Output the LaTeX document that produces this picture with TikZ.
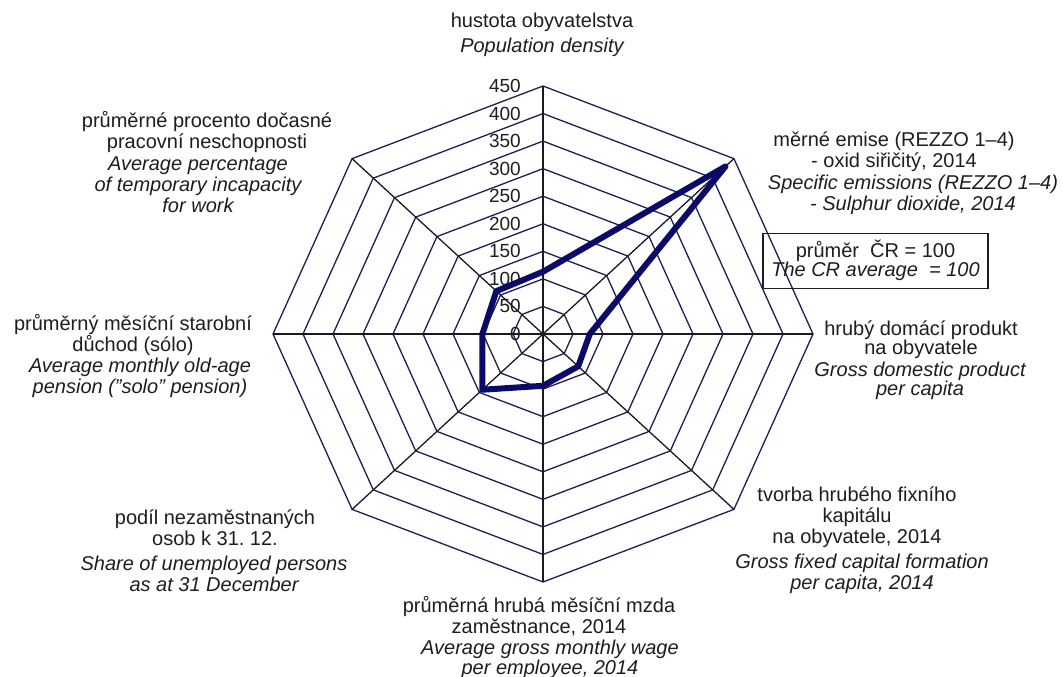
\documentclass[tikz,border=0pt]{standalone}
\usepackage{fontspec}
\setmainfont{Liberation Sans}
\definecolor{ringc}{RGB}{30,30,85}
\definecolor{spokec}{RGB}{25,25,35}
\definecolor{datac}{RGB}{10,10,105}
\definecolor{txt}{RGB}{30,30,30}
\begin{document}
\frenchspacing
\begin{tikzpicture}[x=1pt,y=-1pt,
  ring/.style={draw=ringc,line width=1.3pt},
  spoke/.style={draw=spokec,line width=1.3pt},
  dataline/.style={draw=datac,line width=6pt,line join=round},
  lab/.style={font=\fontsize{20}{21}\selectfont,align=center,inner sep=0pt,text=txt},
  labit/.style={lab,font=\fontsize{20}{21}\selectfont\itshape},
  tick/.style={font=\fontsize{19}{20}\selectfont,anchor=east,inner sep=0pt,text=txt},
  avgbox/.style={draw=txt,line width=1.2pt,minimum width=225pt,minimum height=55pt,inner sep=0pt,align=center,text=txt,font=\fontsize{20}{20}\selectfont}]
\useasboundingbox (0,0) rectangle (1063,677);
\fill[white] (0,0) rectangle (1063,677);
\coordinate (O) at (543,334);
% rings
\foreach \k in {1,...,9}{
  \pgfmathsetmacro\r{50*\k}
  \draw[ring] ({543+0.6*\r*cos(90)},{334-0.5511*\r*sin(90)})
    \foreach \a in {45,0,-45,-90,-135,180,135}{ -- ({543+0.6*\r*cos(\a)},{334-0.5511*\r*sin(\a)}) } -- cycle;
}
% axes
\foreach \a/\n in {90/t,45/ur,0/r,-45/lr,-90/b,-135/ll,180/l,135/ul}
  \coordinate (ax-\n) at ({543+0.6*450*cos(\a)},{334-0.5511*450*sin(\a)});
\foreach \n in {t,ur,r,lr,b,ll,l,ul}
  \draw[spoke] (O) -- (ax-\n);
% tick labels
\foreach \k [evaluate=\k as \v using int(50*\k)] in {0,...,9}
  \node[tick] (tk\k) at (521,{334-0.5511*50*\k}) {\v};
% data
\foreach \a/\n/\v in {90/t/113,45/ur/430,0/r/78,-45/lr/83,-90/b/94,-135/ll/143,180/l/101,135/ul/110}
  \coordinate (d-\n) at ({543+0.6*\v*cos(\a)},{334-0.5511*\v*sin(\a)});
\draw[dataline] (d-t) -- (d-ur) -- (d-r) -- (d-lr) -- (d-b) -- (d-ll) -- (d-l) -- (d-ul) -- cycle;
% labels
\node[lab] (t-cz) at (542,22) {hustota obyvatelstva};
\node[labit] (t-en) at (542,47) {Population density};
\node[lab] (ul-cz) at (207,131.7) {průměrné procento dočasné\\pracovní neschopnosti};
\node[labit] (ul-en) at (198,185) {Average percentage\\of temporary incapacity\\for work};
\node[lab] (ur-cz) at (894,151.7) {měrné emise (REZZO 1–4)\\- oxid siřičitý, 2014};
\node[labit] (ur-en) at (913,195) {Specific emissions (REZZO 1–4)\\- Sulphur dioxide, 2014};
\node[avgbox] (avg) at (875.5,260.8) {průměr\ \ ČR = 100\\[-1pt]\textit{The CR average\ \ = 100}};
\node[lab,font=\fontsize{20}{19.5}\selectfont] (r-cz) at (921,339.5) {hrubý domácí produkt\\na obyvatele};
\node[labit,font=\fontsize{20}{19.5}\selectfont\itshape] (r-en) at (920,381) {Gross domestic product\\per capita};
\node[lab] (lr-cz) at (857,517) {tvorba hrubého fixního\\kapitálu\\na obyvatele, 2014};
\node[labit] (lr-en) at (862,573.5) {Gross fixed capital formation\\per capita, 2014};
\node[lab,font=\fontsize{20}{20.5}\selectfont] (b-cz) at (539,616) {průměrná hrubá měsíční mzda\\zaměstnance, 2014};
\node[labit,font=\fontsize{20}{20}\selectfont\itshape] (b-en) at (550,659) {Average gross monthly wage\\per employee, 2014};
\node[lab] (ll-cz) at (215,527.5) {podíl nezaměstnaných\\osob k 31. 12.};
\node[labit] (ll-en) at (214,574) {Share of unemployed persons\\as at 31 December};
\node[lab] (l-cz) at (133,335) {průměrný měsíční starobní\\důchod (sólo)};
\node[labit] (l-en) at (140,377.5) {Average monthly old-age\\pension (\symbol{34}solo\symbol{34} pension)};
\end{tikzpicture}
\end{document}
